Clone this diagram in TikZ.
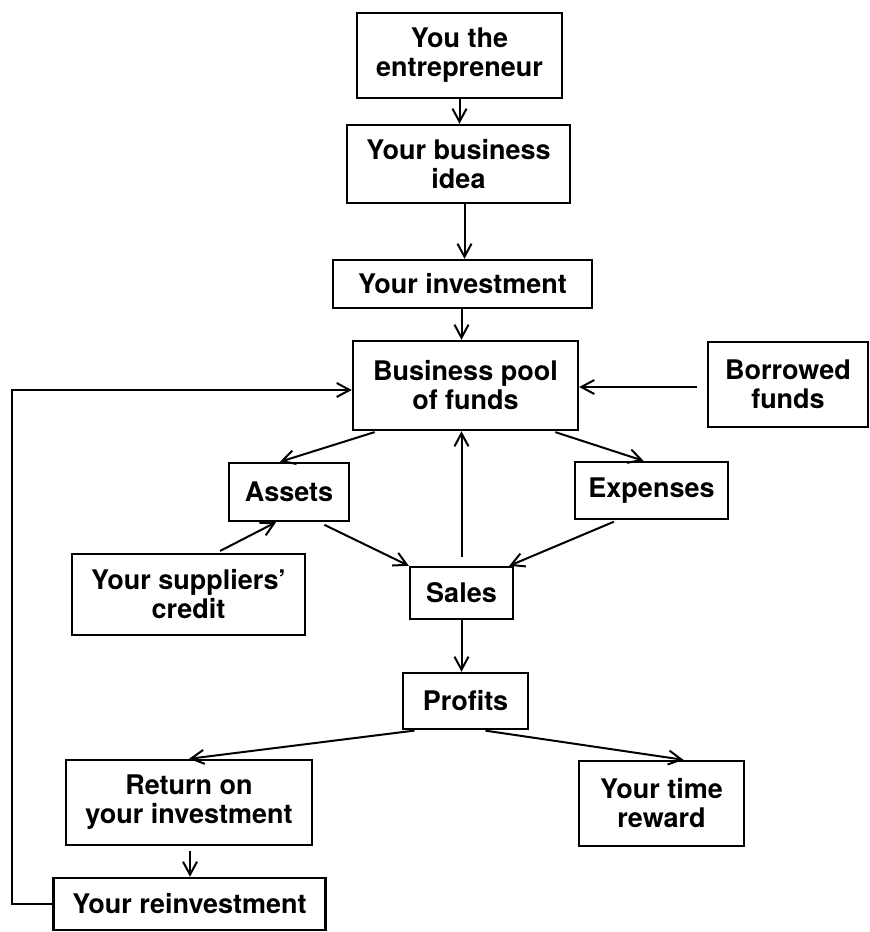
\documentclass[tikz,border=0pt]{standalone}
\usepackage{fontspec}
\setmainfont{TeX Gyre Heros}
\usetikzlibrary{arrows.meta}

\begin{document}
\begin{tikzpicture}[x=1pt,y=-1pt,
  box/.style={draw,line width=2.4pt,align=center,inner sep=0pt,
    font=\fontsize{27}{29}\selectfont\bfseries},
  arr/.style={line width=2pt,-{Straight Barb[length=13pt,width=14pt,line width=2pt]}}]
\useasboundingbox (0,0) rectangle (870,932);
% boxes
\node[box,minimum width=205pt,minimum height=85pt] (ent) at (459.5,55.5) {You the\\entrepreneur};
\node[box,minimum width=223pt,minimum height=78pt] (idea) at (458.5,164) {Your business\\idea};
\node[box,minimum width=259pt,minimum height=48pt] (inv) at (462.5,284) {Your investment};
\node[box,minimum width=225pt,minimum height=89pt] (pool) at (465.5,385.5) {Business pool\\of funds};
\node[box,minimum width=160pt,minimum height=85pt] (borrow) at (788,384.5) {Borrowed\\funds};
\node[box,minimum width=120pt,minimum height=58pt] (assets) at (289,492) {Assets};
\node[box,minimum width=153pt,minimum height=57pt] (exp) at (651.5,490.5) {Expenses};
\node[box,minimum width=233pt,minimum height=81pt] (supp) at (188.5,594.5) {Your suppliers'\\credit};
\node[box,minimum width=103pt,minimum height=52pt] (sales) at (461.5,593) {Sales};
\node[box,minimum width=125pt,minimum height=56pt] (profits) at (465.5,701) {Profits};
\node[box,minimum width=246pt,minimum height=85pt] (ret) at (189,802.5) {Return on\\your investment};
\node[box,minimum width=165pt,minimum height=85pt] (time) at (661.5,803.5) {Your time\\reward};
\node[box,minimum width=272pt,minimum height=52pt] (reinv) at (189.5,904) {Your reinvestment};
% flows
\draw[arr] (ent.south) -- (ent.south |- idea.north);
\draw[arr] ([xshift=6pt]idea.south) -- ([xshift=6pt]idea.south |- inv.north);
\draw[arr] ([xshift=-1pt]inv.south) -- ([xshift=-1pt]inv.south |- pool.north);
\draw[arr,shorten <=10pt] (borrow.west |- 0,387) -- (pool.east |- 0,387);
\draw[arr,shorten <=3pt] ([xshift=-88pt]pool.south) -- ([xshift=-9pt]assets.north);
\draw[arr,shorten <=3pt] ([xshift=87pt]pool.south) -- ([xshift=-8pt]exp.north);
\draw[arr,shorten <=9pt] (sales.north) -- (sales.north |- pool.south);
\draw[arr,shorten <=6pt] ([xshift=30pt]assets.south) -- (sales.north west);
\draw[arr,shorten <=4pt] ([xshift=-34pt]exp.south) -- ([xshift=-5pt]sales.north east);
\draw[arr,shorten <=4pt] ([xshift=28pt]supp.north) -- ([xshift=-13pt]assets.south);
\draw[arr] (sales.south) -- (sales.south |- profits.north);
\draw[arr,shorten <=3pt] ([xshift=-48pt]profits.south) -- (ret.north);
\draw[arr,shorten <=3pt] ([xshift=17pt]profits.south) -- ([xshift=22pt]time.north);
\draw[arr,shorten <=5pt] ([xshift=1pt]ret.south) -- ([xshift=1pt]ret.south |- reinv.north);
% reinvestment back into the pool
\coordinate (back) at (12,390);
\draw[arr] (reinv.west) -| (back) -- (pool.west |- back);
\end{tikzpicture}
\end{document}
